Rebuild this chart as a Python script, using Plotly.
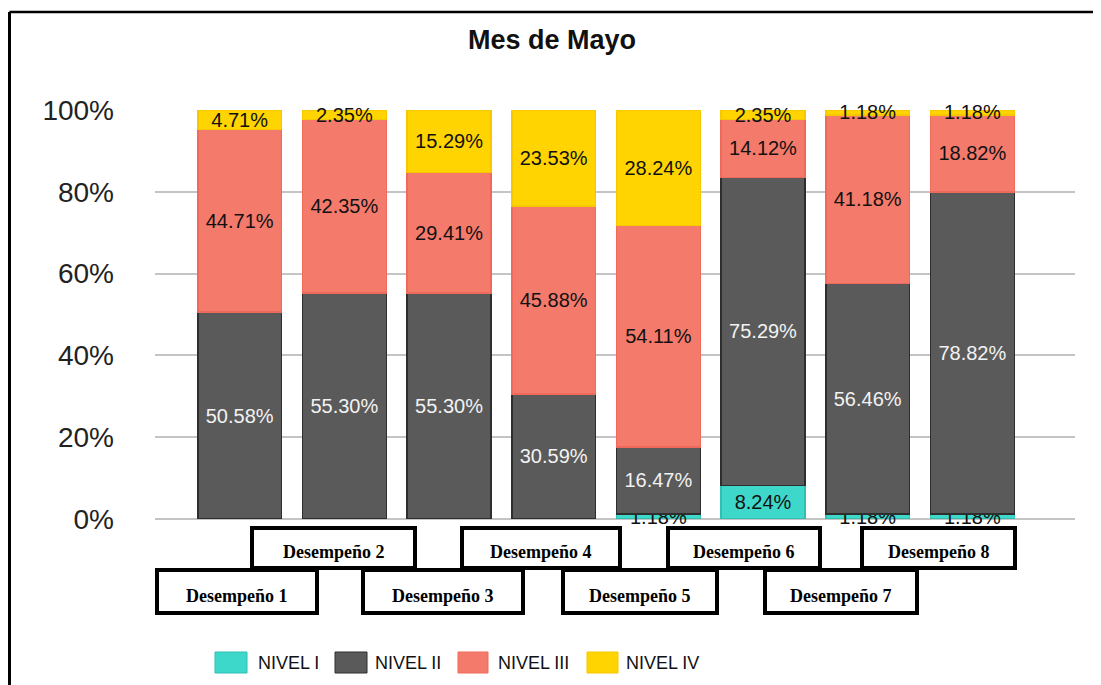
import plotly.graph_objects as go

# ---- data ----
categories = ["Desempeño 1", "Desempeño 2", "Desempeño 3", "Desempeño 4",
              "Desempeño 5", "Desempeño 6", "Desempeño 7", "Desempeño 8"]
nivel_1 = [0, 0, 0, 0, 1.18, 8.24, 1.18, 1.18]
nivel_2 = [50.58, 55.30, 55.30, 30.59, 16.47, 75.29, 56.46, 78.82]
nivel_3 = [44.71, 42.35, 29.41, 45.88, 54.11, 14.12, 41.18, 18.82]
nivel_4 = [4.71, 2.35, 15.29, 23.53, 28.24, 2.35, 1.18, 1.18]
series_names = ["NIVEL I", "NIVEL II", "NIVEL III", "NIVEL IV"]
y_ticks = [0, 20, 40, 60, 80, 100]
y_tick_labels = ["0%", "20%", "40%", "60%", "80%", "100%"]
title_text = "Mes de Mayo"

# ---- styles ----
OFF = 8                      # page body margin offset (screen -> figure)
W, H = 1101 - OFF, 685 - OFF
# plot area in screen pixels
SL, SR, ST, SB = 155, 1075, 110, 519
colors = ["#3ED8CB", "#5A5A5A", "#F47A6C", "#FFD400"]
line_colors = ["#2FBFB3", "#2E2E2E", "#F06A5C", "#F5C800"]
text_colors = ["#111111", "#F2F2F2", "#111111", "#111111"]
SANS = "Liberation Sans, Arial, sans-serif"
NARROW = "Liberation Sans Narrow, Arial Narrow, Liberation Sans, Arial, sans-serif"


def px(x):
    return (x - SL) / (SR - SL)


def py(y):
    return (SB - y) / (SB - ST)


def fmt(vals):
    return [f"{v:.2f}%" if v > 0 else "" for v in vals]


fig = go.Figure()
for name, vals, c, lc, tc in zip(series_names, [nivel_1, nivel_2, nivel_3, nivel_4],
                                 colors, line_colors, text_colors):
    fig.add_trace(go.Bar(
        x=categories, y=vals, name=name,
        marker=dict(color=c, line=dict(color=lc, width=1.5)),
        text=fmt(vals), textposition="inside", insidetextanchor="middle",
        constraintext="none", cliponaxis=False,
        textfont=dict(family=SANS, size=20, color=tc),
        showlegend=False,
    ))

fig.update_layout(
    barmode="stack",
    bargap=0.2,
    width=W, height=H,
    margin=dict(l=SL - OFF, r=W - (SR - OFF), t=ST - OFF, b=H - (SB - OFF)),
    paper_bgcolor="white", plot_bgcolor="white",
    title=dict(text=f"<b>{title_text}</b>", x=px(552), xref="paper",
               xanchor="center", y=1 - (40 - OFF) / H, yanchor="middle",
               font=dict(family=SANS, size=27, color="#111111")),
    xaxis=dict(range=[-0.81, 7.98], showticklabels=False, showgrid=False,
               zeroline=False, showline=False, ticks=""),
    yaxis=dict(range=[0, 100], tickvals=y_ticks, ticktext=y_tick_labels,
               showgrid=True, gridcolor="#C4C4C4", gridwidth=1.5,
               zeroline=True, zerolinecolor="#C4C4C4", zerolinewidth=2,
               ticks="", ticklabelstandoff=40,
               tickfont=dict(family=SANS, size=28, color="#222222")),
    font=dict(family=SANS),
)

# ---- category label boxes (staggered), screen pixels ----
box_pos = [  # left, top, right, bottom
    (157, 570, 317, 613), (252, 528, 415, 568), (363, 570, 523, 613),
    (462, 528, 620, 568), (563, 570, 717, 613), (668, 528, 820, 568),
    (765, 570, 917, 613), (862, 528, 1015, 568),
]
for cat, (l, t, r, b) in zip(categories, box_pos):
    fig.add_shape(type="rect", xref="paper", yref="paper",
                  x0=px(l), x1=px(r), y0=py(b), y1=py(t),
                  line=dict(color="black", width=4), fillcolor="white",
                  layer="above")
    fig.add_annotation(xref="paper", yref="paper", x=px((l + r) / 2),
                       y=py((t + b) / 2 + 4), text=f"<b>{cat}</b>",
                       showarrow=False, xanchor="center", yanchor="middle",
                       font=dict(family="Liberation Serif, Times New Roman, serif",
                                 size=18, color="black"))

# ---- custom legend ----
legend_items = [  # swatch left, swatch right, text left
    (215, 247, 256), (335, 367, 373), (458, 488, 496), (587, 618, 624),
]
for name, c, lc, (sl, sr, tl) in zip(series_names, colors, line_colors, legend_items):
    fig.add_shape(type="rect", xref="paper", yref="paper",
                  x0=px(sl), x1=px(sr), y0=py(673), y1=py(652),
                  fillcolor=c, line=dict(color=lc, width=1))
    fig.add_annotation(xref="paper", yref="paper", x=px(tl), y=py(662.5),
                       text=name, showarrow=False, xanchor="left",
                       yanchor="middle",
                       font=dict(family=NARROW, size=18, color="#111111"))

# ---- outer frame (left and top edges) ----
fig.add_shape(type="line", xref="paper", yref="paper",
              x0=px(9.5), x1=px(1101 + 10), y0=py(12), y1=py(12),
              line=dict(color="black", width=2.5))
fig.add_shape(type="line", xref="paper", yref="paper",
              x0=px(9.5), x1=px(9.5), y0=py(12), y1=py(685 + 10),
              line=dict(color="black", width=3))

fig.write_html("out.html")
